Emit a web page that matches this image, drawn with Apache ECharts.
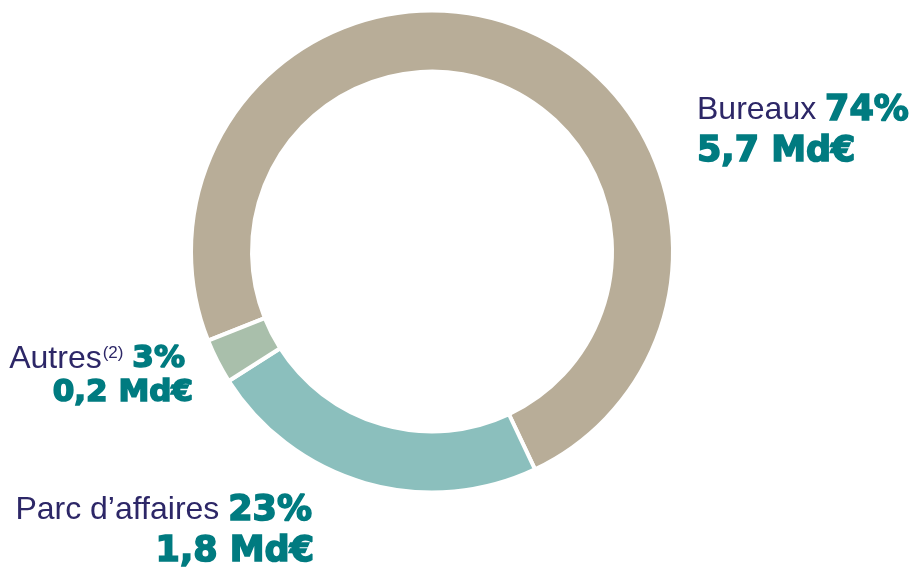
<!DOCTYPE html>
<html>
<head>
<meta charset="utf-8">
<script src="https://cdn.jsdelivr.net/npm/echarts@6/dist/echarts.min.js"></script>
<style>
  html, body { margin: 0; padding: 0; background: #ffffff; }
  #chart { width: 919px; height: 574px; }
</style>
</head>
<body>
<div id="chart"></div>
<script>
// Asset split by property type
const categories = ['Bureaux', 'Parc d\u2019affaires', 'Autres'];
const shares = [74, 23, 3];            // %
const amounts = ['5,7', '1,8', '0,2']; // Md€
const notes = ['', '', '(2)'];
const colors = ['#B8AD98', '#8BBFBD', '#A9BFAB'];

// Label blocks: anchor point and alignment for each slice
const labelSpots = [
  { x: 697, y: 90, align: 'left' },
  { x: 314, y: 490, align: 'right' },
  { x: 193, y: 342, align: 'right' }
];

const NAME_COLOR = '#2D2767';
const VALUE_COLOR = '#007B80';
const NAME_FONT = '"Liberation Sans", Arial, sans-serif';
const VALUE_FONT = '"DejaVu Sans", sans-serif';

function richFor(size, lh, pctPad) {
  const heavy = {
    fontFamily: VALUE_FONT, fontWeight: 'bold', fontSize: size, color: VALUE_COLOR,
    lineHeight: lh, textBorderColor: VALUE_COLOR, textBorderWidth: 1.6
  };
  return {
    n: { fontFamily: NAME_FONT, fontSize: 32, color: NAME_COLOR, lineHeight: lh },
    s: { fontFamily: NAME_FONT, fontSize: 17, color: NAME_COLOR, lineHeight: lh, verticalAlign: 'top', padding: [3, 0, 0, 1] },
    p: Object.assign({}, heavy, { padding: [0, pctPad, 0, 0] }),
    v: heavy
  };
}

const data = categories.map((name, i) => {
  const small = i === 2;
  return {
    name: name,
    value: shares[i],
    itemStyle: { color: colors[i] },
    label: {
      formatter: '{n|' + name + '}' + (notes[i] ? '{s|' + notes[i] + '}' : '') +
                 '{n| }{p|' + shares[i] + '%}\n{v|' + amounts[i] + ' Md\u20AC}',
      rich: small ? richFor(31, 34, 8) : richFor(35, 41, 2)
    }
  };
});

const chart = echarts.init(document.getElementById('chart'), null, { renderer: 'canvas' });
chart.setOption({
  backgroundColor: '#ffffff',
  animation: false,
  series: [{
    type: 'pie',
    silent: true,
    center: [432, 251.5],
    radius: [180, 241],
    startAngle: 201.7,
    clockwise: true,
    avoidLabelOverlap: false,
    itemStyle: { borderColor: '#ffffff', borderWidth: 4 },
    label: { show: true, position: 'outside' },
    labelLine: { show: false },
    labelLayout: function (params) {
      const s = labelSpots[params.dataIndex];
      return { x: s.x, y: s.y, align: s.align, verticalAlign: 'top' };
    },
    data: data
  }]
});
</script>
</body>
</html>
